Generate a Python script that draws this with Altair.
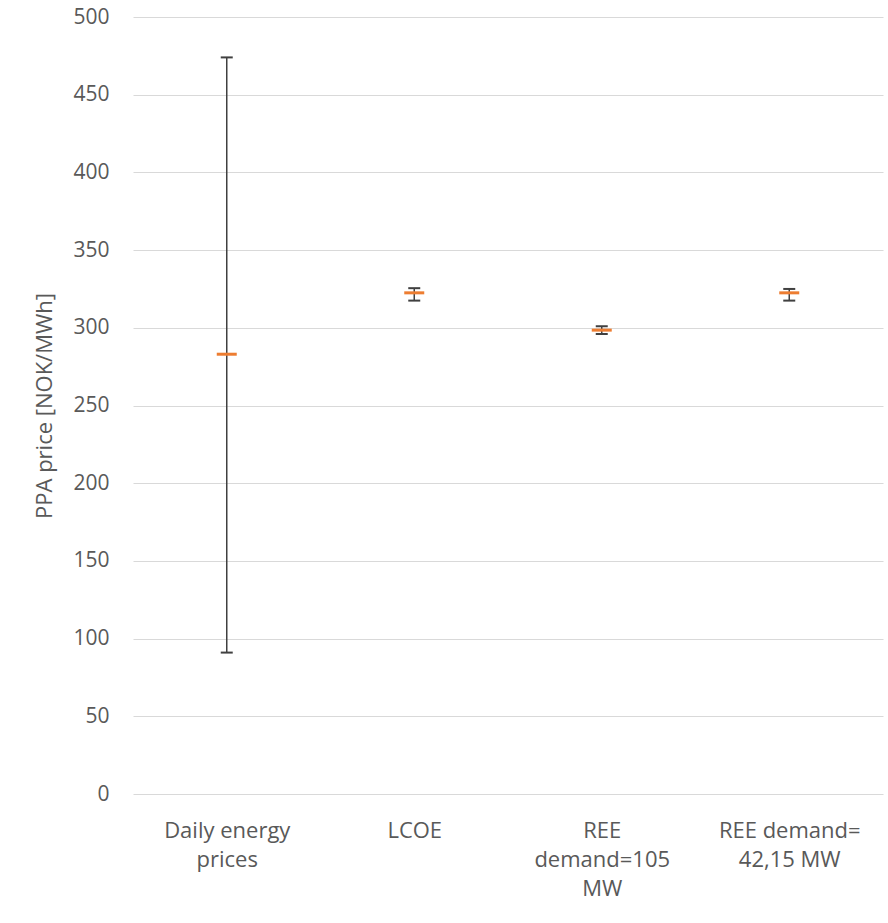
import altair as alt
import pandas as pd

# PPA price scenarios: central estimate with lower/upper range
categories = ["Daily energy|prices", "LCOE", "REE|demand=105|MW", "REE demand=|42,15 MW"]
central = [283, 322.5, 298.5, 322.5]
lower = [91, 317.5, 296, 317.5]
upper = [474, 325.5, 301, 325]

df = pd.DataFrame({"cat": categories, "mid": central, "lo": lower, "hi": upper})

FONT = "Open Sans"
TEXT = "#595959"

x = alt.X(
    "cat:N",
    sort=categories,
    scale=alt.Scale(type="point", padding=0.5),
    axis=alt.Axis(
        title=None,
        labelExpr="split(datum.label, '|')",
        labelAngle=0,
        labelFont=FONT,
        labelFontSize=22,
        labelColor=TEXT,
        labelLineHeight=29,
        labelPadding=26,
        ticks=False,
        domain=False,
        grid=False,
    ),
)

y_axis = alt.Axis(
    title="PPA price [NOK/MWh]",
    titleFont=FONT,
    titleFontSize=22,
    titleFontWeight="normal",
    titleColor=TEXT,
    titlePadding=16,
    values=list(range(0, 501, 50)),
    labelFont=FONT,
    labelFontSize=21,
    labelColor=TEXT,
    labelPadding=24,
    ticks=False,
    domain=False,
    gridColor="#D9D9D9",
    gridWidth=1.2,
)
y_scale = alt.Scale(domain=[0, 500], nice=False)

base = alt.Chart(df)

whisker = base.mark_rule(color="#404040", strokeWidth=1.5).encode(
    x=x,
    y=alt.Y("lo:Q", scale=y_scale, axis=y_axis),
    y2="hi:Q",
)
cap_lo = base.mark_tick(color="#404040", size=12, thickness=2, opacity=1, orient="horizontal").encode(
    x=x, y=alt.Y("lo:Q", scale=y_scale)
)
cap_hi = base.mark_tick(color="#404040", size=12, thickness=2, opacity=1, orient="horizontal").encode(
    x=x, y=alt.Y("hi:Q", scale=y_scale)
)
median = base.mark_tick(color="#ED7D31", size=20, thickness=3, opacity=1, orient="horizontal").encode(
    x=x, y=alt.Y("mid:Q", scale=y_scale)
)

chart = (
    alt.layer(whisker, cap_lo, cap_hi, median)
    .properties(
        width=750,
        height=777,
        background="white",
        autosize=alt.AutoSizeParams(type="none"),
        padding={"left": 133, "top": 17, "right": 5, "bottom": 129},
    )
    .configure_view(strokeWidth=0, stroke="transparent")
)

chart.save("out.html", embed_options={"renderer": "svg", "actions": False})
